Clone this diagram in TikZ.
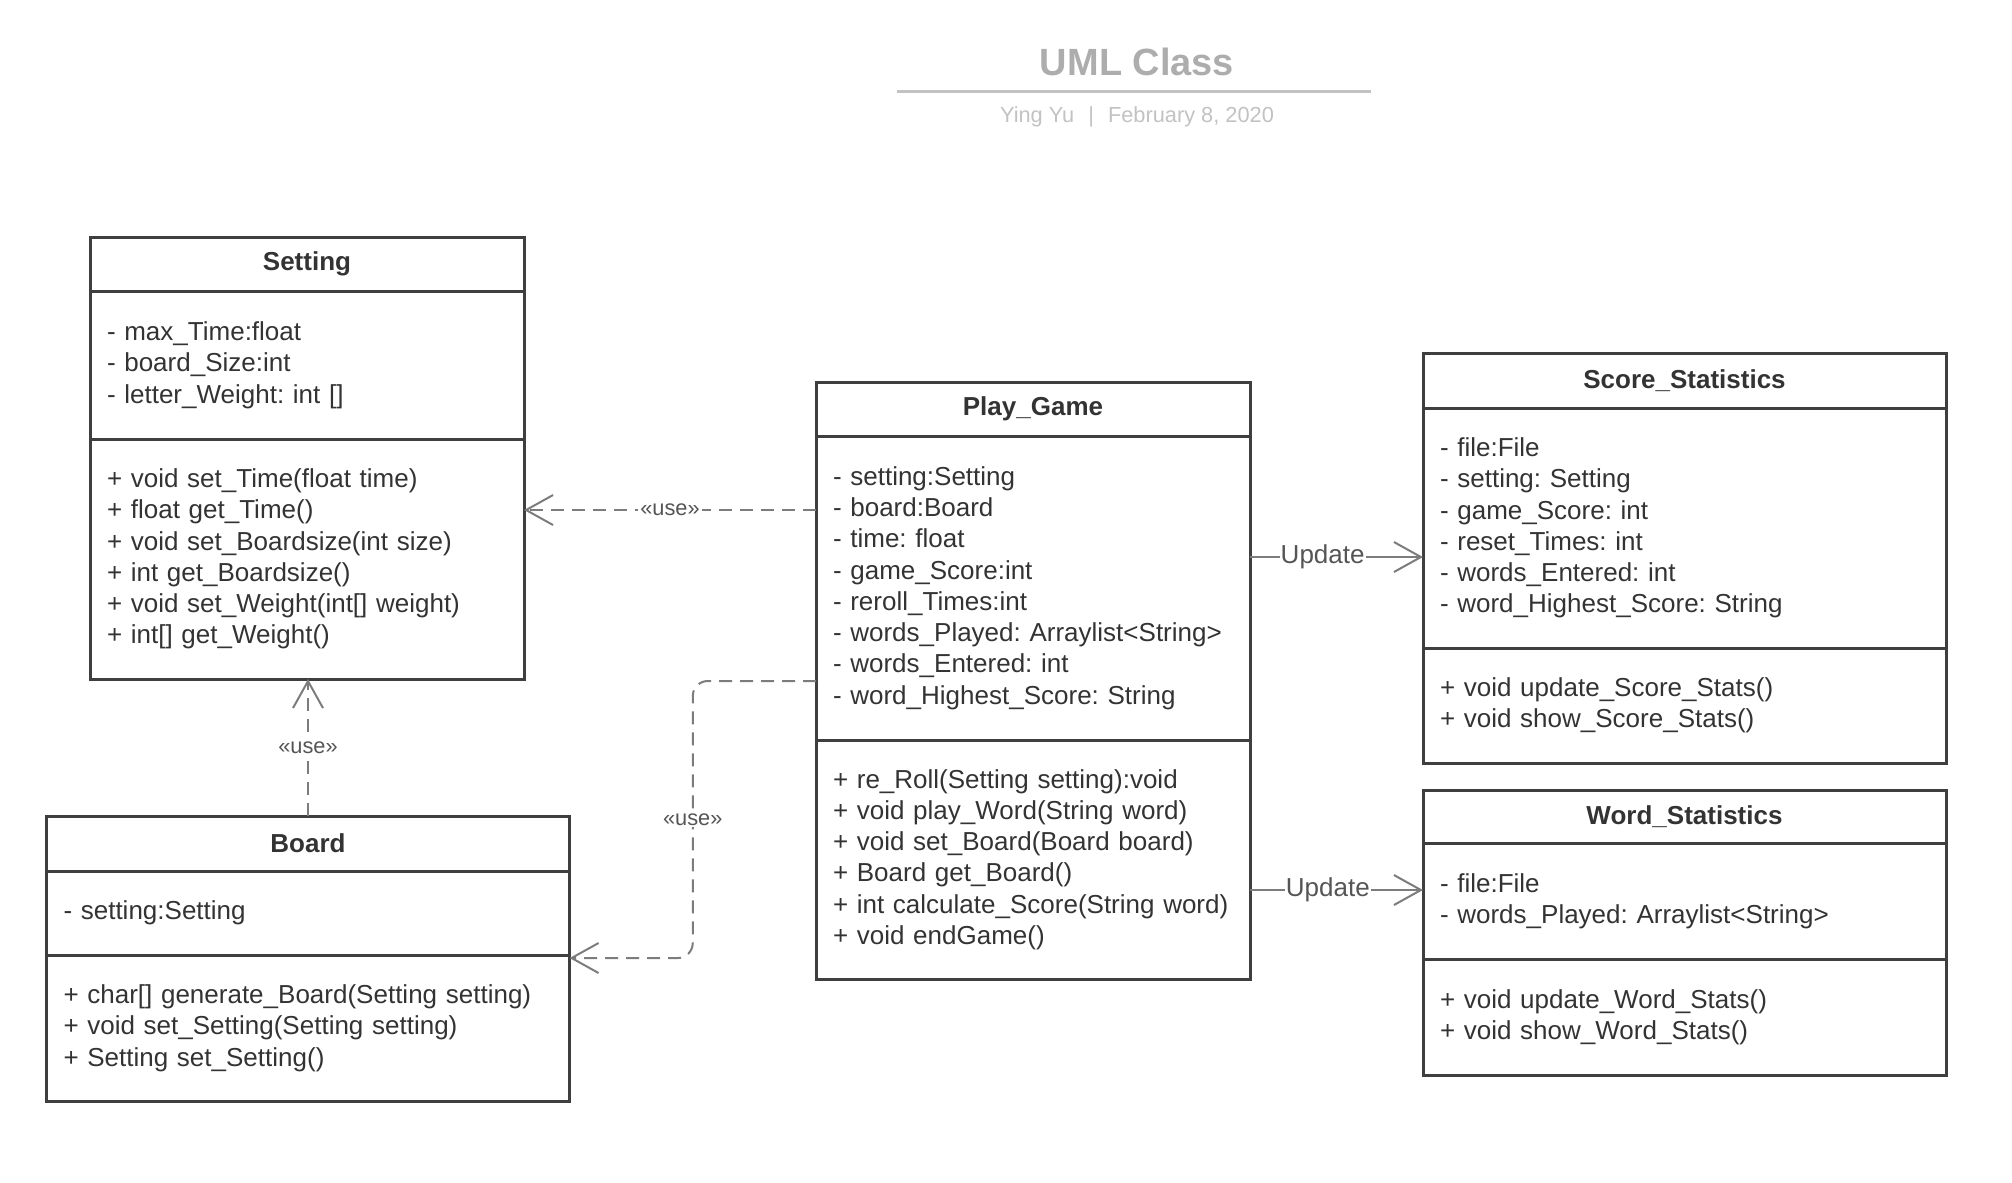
\documentclass[tikz,border=0pt]{standalone}
\usepackage{fontspec}
\setmainfont{Liberation Sans}
\frenchspacing
\usetikzlibrary{
  arrows.meta,  % Tip "Straight Barb"
  positioning,  % Function "of" (e.g. [below=of x])
  calc          % Calculations $...$
}
\definecolor{ink}{HTML}{333333}
\definecolor{boxline}{HTML}{3F3F3F}
\definecolor{wire}{HTML}{7C7C7C}
\definecolor{labelgray}{HTML}{555555}
\definecolor{titlegray}{HTML}{ADADAD}
\definecolor{subgray}{HTML}{C2C2C2}
\def\mynarrow{4.34cm}
\def\mynarrowtext{4.00cm}
\def\mywide{5.23cm}
\def\mywidetext{4.89cm}
\def\myinset{0.17cm}
\tikzset{
  font=\fontsize{7.4}{8.9}\selectfont,
  class head/.style={
    draw=boxline,
    line width=0.03cm,
    outer sep=0pt,
    inner sep=0pt,
    minimum width=#1,
    minimum height=0.54cm,
    text=ink,
    font=\fontsize{7.4}{8.9}\selectfont\bfseries
  },
  class part/.style={
    draw=boxline,
    line width=0.03cm,
    outer sep=0pt,
    inner xsep=\myinset,
    inner ysep=0pt,
    text width=#1,
    align=left,
    text=ink
  },
  my tip/.style={
    -{Straight Barb[length=0.27cm,width=0.30cm]}
  },
  dep/.style={
    draw=wire,
    line width=0.02cm,
    dash pattern=on 0.13cm off 0.08cm,
    my tip
  },
  assoc/.style={
    draw=wire,
    line width=0.02cm,
    my tip
  }
}

\begin{document}
\begin{tikzpicture}[
  stereo/.style={fill=white,inner sep=0.02cm,text=labelgray,font=\fontsize{6.2}{7}\selectfont},
  assoc label/.style={fill=white,inner sep=0.01cm,text=labelgray}
]
\useasboundingbox (0,0) rectangle (20.12,-11.82);

% title block
\node[anchor=base,text=titlegray,font=\fontsize{10.8}{12}\selectfont\bfseries] (title) at (11.37,-0.75) {UML Class};
\draw[subgray,line width=0.03cm] (8.97,-0.91) -- (13.71,-0.91);
\node[anchor=base,text=subgray,font=\fontsize{6.2}{7}\selectfont] (byline) at (11.37,-1.22)
  {Ying Yu\hspace{0.14cm}|\hspace{0.14cm}February 8, 2020};

% Setting
\node[class head=\mynarrow,anchor=north west] (setting) at (0.90,-2.37) {Setting};
\node[class part=\mynarrowtext,minimum height=1.48cm,below=0pt of setting] (setting-attr)
  {- max\_Time:float\\- board\_Size:int\\- letter\_Weight: int []};
\node[class part=\mynarrowtext,minimum height=2.40cm,below=0pt of setting-attr] (setting-ops)
  {+ void set\_Time(float time)\\+ float get\_Time()\\+ void set\_Boardsize(int size)\\+ int get\_Boardsize()\\+ void set\_Weight(int[] weight)\\+ int[] get\_Weight()};

% Play_Game
\node[class head=\mynarrow,anchor=north west] (pg) at (8.16,-3.82) {Play\_Game};
\node[class part=\mynarrowtext,minimum height=3.04cm,below=0pt of pg] (pg-attr)
  {- setting:Setting\\- board:Board\\- time: float\\- game\_Score:int\\- reroll\_Times:int\\- words\_Played: Arraylist<String>\\- words\_Entered: int\\- word\_Highest\_Score: String};
\node[class part=\mynarrowtext,minimum height=2.39cm,below=0pt of pg-attr] (pg-ops)
  {+ re\_Roll(Setting setting):void\\+ void play\_Word(String word)\\+ void set\_Board(Board board)\\+ Board get\_Board()\\+ int calculate\_Score(String word)\\+ void endGame()};

% Score_Statistics
\node[class head=\mywide,anchor=north west,minimum height=0.55cm] (score) at (14.23,-3.53) {Score\_Statistics};
\node[class part=\mywidetext,minimum height=2.40cm,below=0pt of score] (score-attr)
  {- file:File\\- setting: Setting\\- game\_Score: int\\- reset\_Times: int\\- words\_Entered: int\\- word\_Highest\_Score: String};
\node[class part=\mywidetext,minimum height=1.15cm,below=0pt of score-attr] (score-ops)
  {+ void update\_Score\_Stats()\\+ void show\_Score\_Stats()};

% Word_Statistics
\node[class head=\mywide,anchor=north west,minimum height=0.53cm] (word) at (14.23,-7.90) {Word\_Statistics};
\node[class part=\mywidetext,minimum height=1.16cm,below=0pt of word] (word-attr)
  {- file:File\\- words\_Played: Arraylist<String>};
\node[class part=\mywidetext,minimum height=1.16cm,below=0pt of word-attr] (word-ops)
  {+ void update\_Word\_Stats()\\+ void show\_Word\_Stats()};

% Board
\node[class head=\mywide,anchor=north west,minimum height=0.55cm] (board) at (0.465,-8.16) {Board};
\node[class part=\mywidetext,minimum height=0.84cm,below=0pt of board] (board-attr)
  {- setting:Setting};
\node[class part=\mywidetext,minimum height=1.46cm,below=0pt of board-attr] (board-ops)
  {+ char[] generate\_Board(Setting setting)\\+ void set\_Setting(Setting setting)\\+ Setting set\_Setting()};

% connectors
\draw[dep] ([yshift=0.78cm]pg-attr.west) -- node[stereo] {«use»} ([yshift=0.78cm]pg-attr.west -| setting-ops.east);
\draw[dep] (board.north) -- node[stereo] {«use»} (board.north |- setting-ops.south);
\coordinate (pb-start) at ([yshift=-0.93cm]pg-attr.west);
\coordinate (pb-end) at ([yshift=0.70cm]board-ops.east);
\draw[dep,rounded corners=0.15cm] (pb-start) -| ($(pb-start)!0.5!(pb-end)$) |- (pb-end);
\node[stereo] (pb-label) at ($(pb-start)!0.5!(pb-end)$) {«use»};
\draw[assoc] ([yshift=0.31cm]pg-attr.east) -- node[assoc label,pos=0.42] {Update} ([yshift=0.31cm]pg-attr.east -| score-attr.west);
\draw[assoc] ([yshift=-0.305cm]pg-ops.east) -- node[assoc label,pos=0.45] {Update} ([yshift=-0.305cm]pg-ops.east -| word-attr.west);
\end{tikzpicture}
\end{document}
